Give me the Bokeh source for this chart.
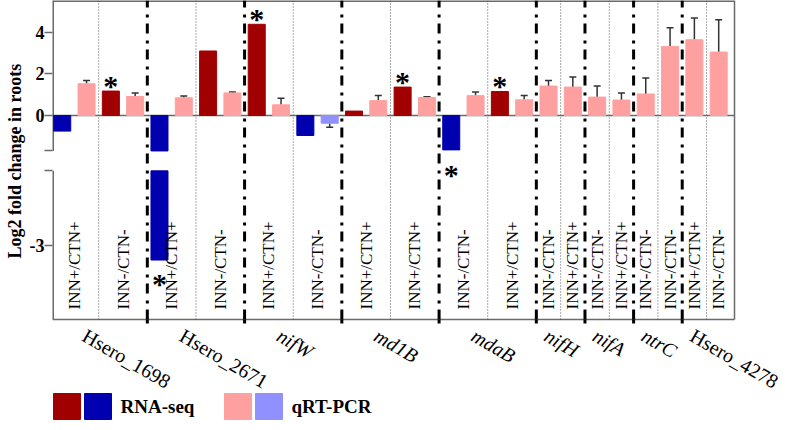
import numpy as np
from bokeh.plotting import figure
from bokeh.models import (Range1d, LinearAxis, FixedTicker, ColumnDataSource,
                          Whisker, TeeHead, Title)
from bokeh.embed import file_html
from bokeh.resources import INLINE
from bokeh.core.properties import value

# ---------------- data ----------------
genes = ["Hsero_1698", "Hsero_2671", "nifW", "md1B", "mdaB",
         "nifH", "nifA", "ntrC", "Hsero_4278"]
gene_conditions = [
    ["INN+/CTN+", "INN-/CTN-"],
    ["INN+/CTN+", "INN-/CTN-"],
    ["INN+/CTN+", "INN-/CTN-"],
    ["INN+/CTN+", "INN+/CTN+"],
    ["INN-/CTN-", "INN+/CTN+"],
    ["INN-/CTN-", "INN+/CTN+"],
    ["INN-/CTN-", "INN+/CTN+"],
    ["INN-/CTN-", "INN-/CTN-"],
    ["INN+/CTN+", "INN-/CTN-"],
]
NA = float("nan")
rna_seq = [-0.75, 1.17, -3.2, 3.09, 4.37, -0.96, 0.21, 1.36, -1.65, 1.15,
           NA, NA, NA, NA, NA, NA, NA, NA]
rna_significant = [False, True, True, False, True, False, False, True, True, True,
                   False, False, False, False, False, False, False, False]
qrt_pcr = [1.52, 0.91, 0.85, 1.08, 0.51, -0.37, 0.71, 0.86, 0.95, 0.75,
           1.41, 1.36, 0.88, 0.74, 1.03, 3.31, 3.63, 3.04]
qrt_pcr_err = [0.16, 0.17, 0.08, 0.04, 0.32, 0.19, 0.25, 0.04, 0.17, 0.21,
               0.27, 0.48, 0.53, 0.34, 0.76, 0.90, 1.04, 1.55]
y_tick_values = [0, 2, 4]
lower_tick_values = [-3]
upper_segment = (-1.7, 5.51)     # broken axis: upper part
lower_segment = (-4.0, -2.0)     # broken axis: lower part
legend_labels = ["RNA-seq", "qRT-PCR"]
y_title = "Log2 fold change in roots"

# ---------------- styles / layout ----------------
RNA_UP, RNA_DOWN = "#A00000", "#0000B0"
QRT_UP, QRT_DOWN = "#FFA0A0", "#9090FF"
FONT = "Liberation Serif"
GRAY = "#6a6a6a"
FIG_W, FIG_H, LEFT = 788, 420, 52
BOX_W, BOX_H = 682, 319               # the boxed chart area inside the frame
FRAME_W = FIG_W - LEFT
UPPER_FRAC, LOWER_FRAC = 0.4716, 0.466  # share of box height per axis segment
BAR_W = 0.7

# ---------------- layout of categories ----------------
rna_x, qrt_x, sample_center, gene_center = [], [], [], []
gene_bounds, cond_bounds, sample_cond = [], [], []
cell = 0
i = 0
for g, conds in zip(genes, gene_conditions):
    g0 = cell
    for k, c in enumerate(conds):
        s0 = cell
        if not np.isnan(rna_seq[i]):
            rna_x.append(cell + 0.5)
            cell += 1
        else:
            rna_x.append(NA)
        qrt_x.append(cell + 0.5)
        cell += 1
        sample_center.append((s0 + cell) / 2)
        sample_cond.append(c)
        if k < len(conds) - 1:
            cond_bounds.append(cell)
        i += 1
    gene_center.append((g0 + cell) / 2)
    gene_bounds.append(cell)
n_cells = cell

# ---------------- ranges (broken axis; frame larger than box) ----------------
box_x0, box_x1 = 0.1, n_cells + 0.15
ppc = BOX_W / (box_x1 - box_x0)
x_range = Range1d(box_x0, box_x0 + FRAME_W / ppc)

u_lo, u_hi = upper_segment
upp = (u_hi - u_lo) / UPPER_FRAC / BOX_H            # main units per pixel
box_bottom = u_hi - BOX_H * upp
main_range = Range1d(u_hi - FIG_H * upp, u_hi)
l_lo, l_hi = lower_segment
lpp = (l_hi - l_lo) / LOWER_FRAC / BOX_H
low_range = Range1d(l_lo - (FIG_H - BOX_H) * lpp, l_lo + BOX_H * lpp)


def low_to_main(u):
    return main_range.start + (u - low_range.start) / (low_range.end - low_range.start) * (main_range.end - main_range.start)


def fx(px):   # frame-relative pixel -> x data
    return box_x0 + px / ppc


def fy(py):   # frame-relative pixel (from top) -> main y data
    return u_hi - py * upp


p = figure(width=FIG_W, height=FIG_H, x_range=x_range, y_range=main_range,
           output_backend="svg", toolbar_location=None,
           min_border_left=LEFT, min_border_right=0, min_border_top=0, min_border_bottom=0,
           x_axis_type=None, y_axis_type=None)
p.extra_y_ranges = {"low": low_range}
p.outline_line_color = None
p.background_fill_color = "white"
p.border_fill_color = "white"

# left axis
tick_positions = [float(t) for t in y_tick_values] + [u_lo, round(low_to_main(l_hi), 5)]
overrides = {u_lo: "", round(low_to_main(l_hi), 5): ""}
for t in lower_tick_values:
    m = round(low_to_main(t), 5)
    tick_positions.append(m)
    overrides[m] = str(t)
yaxis = LinearAxis(ticker=FixedTicker(ticks=tick_positions), major_label_overrides=overrides,
                   axis_line_color=None, major_tick_line_color=GRAY, major_tick_line_width=1.5,
                   major_tick_out=8, major_tick_in=0, minor_tick_line_color=None,
                   major_label_standoff=0,
                   major_label_text_font=FONT, major_label_text_font_style="bold",
                   major_label_text_font_size="18px", major_label_text_color="black")
p.add_layout(yaxis, "left")
p.add_layout(Title(text=y_title, align="left", offset=FIG_H - 258, standoff=4,
                   text_font=FONT, text_font_style="bold", text_font_size="18px",
                   text_color="black"), "left")

# box edges (left edge broken)
p.segment(x0=[box_x0], y0=[u_lo], x1=[box_x0], y1=[u_hi], line_color=GRAY, line_width=3)
p.segment(x0=[box_x0], y0=[l_lo], x1=[box_x0], y1=[l_hi], line_color=GRAY, line_width=3,
          y_range_name="low")
p.segment(x0=[box_x0], y0=[u_hi], x1=[box_x1], y1=[u_hi], line_color=GRAY, line_width=3)
p.segment(x0=[box_x1, box_x0], y0=[box_bottom, box_bottom], x1=[box_x1, box_x1],
          y1=[u_hi, box_bottom], line_color=GRAY, line_width=1.5)

# separators
gb = gene_bounds[:-1]
p.segment(x0=gb, y0=[box_bottom] * len(gb), x1=gb, y1=[u_hi] * len(gb),
          line_color="black", line_width=3, line_dash="10 6 3 7")
p.segment(x0=gb, y0=[box_bottom] * len(gb), x1=gb, y1=[box_bottom - 4 * upp] * len(gb),
          line_color="black", line_width=3)
p.segment(x0=cond_bounds, y0=[box_bottom] * len(cond_bounds), x1=cond_bounds,
          y1=[u_hi] * len(cond_bounds), line_color="#555555", line_width=1, line_dash="1 2")
p.segment(x0=[box_x0], y0=[0], x1=[box_x1], y1=[0], line_color=GRAY, line_width=1.5)

# RNA-seq bars
rx = [x for x, v in zip(rna_x, rna_seq) if not np.isnan(v)]
rv = [v for v in rna_seq if not np.isnan(v)]
rs = [s for s, v in zip(rna_significant, rna_seq) if not np.isnan(v)]
rna_src = ColumnDataSource(dict(
    x=rx,
    top=[max(v, 0) for v in rv],
    bottom=[0 if v > 0 else max(v, u_lo) for v in rv],
    color=[RNA_UP if v > 0 else RNA_DOWN for v in rv]))
p.vbar(x="x", top="top", bottom="bottom", width=BAR_W, color="color", source=rna_src)
low_idx = [k for k, v in enumerate(rv) if v < l_hi]
p.vbar(x=[rx[k] for k in low_idx], top=[l_hi] * len(low_idx), bottom=[rv[k] for k in low_idx],
       width=BAR_W, color=RNA_DOWN, y_range_name="low")

# qRT-PCR bars
q_src = ColumnDataSource(dict(
    x=qrt_x, top=[max(v, 0) for v in qrt_pcr], bottom=[min(v, 0) for v in qrt_pcr],
    color=[QRT_UP if v > 0 else QRT_DOWN for v in qrt_pcr]))
p.vbar(x="x", top="top", bottom="bottom", width=BAR_W, color="color", source=q_src)

# error bars
pos = [k for k, v in enumerate(qrt_pcr) if v >= 0]
neg = [k for k, v in enumerate(qrt_pcr) if v < 0]
pos_src = ColumnDataSource(dict(x=[qrt_x[k] for k in pos], lower=[qrt_pcr[k] for k in pos],
                                upper=[qrt_pcr[k] + qrt_pcr_err[k] for k in pos]))
neg_src = ColumnDataSource(dict(x=[qrt_x[k] for k in neg], lower=[qrt_pcr[k] - qrt_pcr_err[k] for k in neg],
                                upper=[qrt_pcr[k] for k in neg]))
p.add_layout(Whisker(source=pos_src, base="x", lower="lower", upper="upper",
                     line_color="#333333", line_width=1.5, lower_head=None,
                     upper_head=TeeHead(size=7, line_color="#333333", line_width=1.5)))
p.add_layout(Whisker(source=neg_src, base="x", lower="lower", upper="upper",
                     line_color="#333333", line_width=1.5, upper_head=None,
                     lower_head=TeeHead(size=7, line_color="#333333", line_width=1.5)))

# significance asterisks
star_kw = dict(text_font=value(FONT), text_font_style="bold", text_font_size="30px",
               text_align="center", text_baseline="alphabetic", text_color="black")
up = [k for k in range(len(rv)) if rs[k] and rv[k] > 0]
dn = [k for k in range(len(rv)) if rs[k] and l_hi <= rv[k] < 0]
dl = [k for k in range(len(rv)) if rs[k] and rv[k] < l_hi]
p.text(x=[rx[k] for k in up], y=[rv[k] for k in up], text=["*"] * len(up), y_offset=-6, **star_kw)
p.text(x=[rx[k] for k in dn], y=[rv[k] for k in dn], text=["*"] * len(dn), y_offset=25, **star_kw)
p.text(x=[rx[k] for k in dl], y=[rv[k] for k in dl], text=["*"] * len(dl), y_offset=23,
       y_range_name="low", **star_kw)

# condition labels inside the box
p.text(x=sample_center, y=[box_bottom] * len(sample_center), text=sample_cond,
       angle=np.pi / 2, text_align="left", text_baseline="middle", y_offset=-10,
       text_font=value(FONT), text_font_size="17px", text_color="black")

# gene labels under the box
for italic in (False, True):
    sel = [k for k, g in enumerate(genes) if g.startswith("Hsero") != italic]
    p.text(x=[gene_center[k] for k in sel], y=[box_bottom] * len(sel),
           text=[genes[k] for k in sel], angle=-30, angle_units="deg",
           x_offset=-9, y_offset=5, text_align="left", text_baseline="top",
           text_font=value(FONT), text_font_size="20px", text_color="black",
           text_font_style="italic" if italic else "normal")

# legend (drawn inside the frame, below the gene labels)
legend_colors = [(RNA_UP, RNA_DOWN), (QRT_UP, QRT_DOWN)]
SQ, GAP, START, STEP, TXT, LEG_Y = 27, 4, 1, 171, 67, 406
for j, (lab, cols) in enumerate(zip(legend_labels, legend_colors)):
    x0 = START + j * STEP
    p.rect(x=[fx(x0 + SQ / 2), fx(x0 + SQ + GAP + SQ / 2)], y=[fy(LEG_Y)] * 2,
           width=SQ, height=26, width_units="screen", height_units="screen",
           color=list(cols))
    p.text(x=[fx(x0 + TXT)], y=[fy(LEG_Y)], text=[lab], text_font=value(FONT),
           text_font_style="bold", text_font_size="19px", text_baseline="middle",
           text_align="left", text_color="black")

open("out.html", "w").write(file_html(p, INLINE))
